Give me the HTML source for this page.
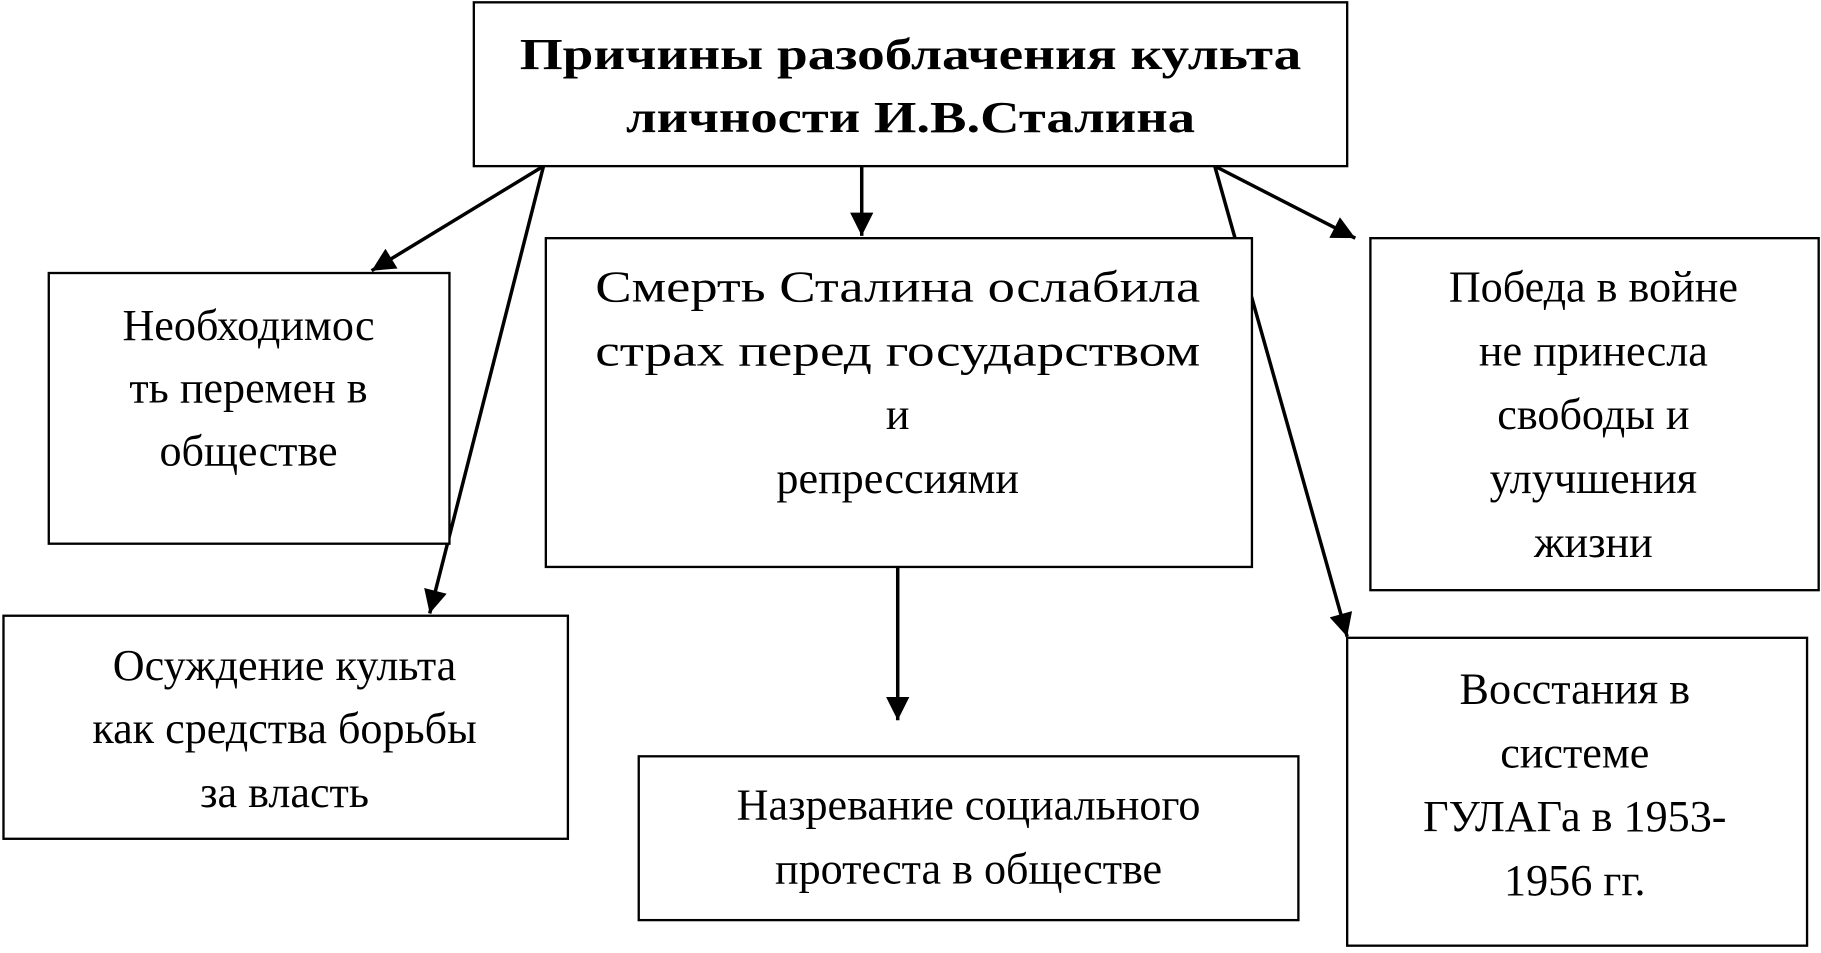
<!DOCTYPE html>
<html><head><meta charset="utf-8"><style>html,body{margin:0;padding:0;background:#fff;overflow:hidden}</style></head>
<body>
<svg width="1821" height="948" viewBox="0 0 1568 816" preserveAspectRatio="none" xmlns="http://www.w3.org/2000/svg" font-family="Liberation Serif, serif" fill="#000">
<defs><marker id="a" markerWidth="10" markerHeight="10" refX="9" refY="5" orient="auto" markerUnits="userSpaceOnUse" viewBox="0 0 10 10"><path d="M0,0 L10,5 L0,10 z"/></marker>
<marker id="b" viewBox="0 0 10 10" refX="10" refY="5" markerWidth="22" markerHeight="20" orient="auto" markerUnits="userSpaceOnUse"><path d="M0,0 L10,5 L0,10 z"/></marker></defs>
<g stroke="#000" stroke-width="3" fill="none">
<line x1="468" y1="143" x2="320" y2="233" marker-end="url(#b)"/>
<line x1="468" y1="143" x2="370" y2="528" marker-end="url(#b)"/>
<line x1="742" y1="143" x2="742" y2="203" marker-end="url(#b)"/>
<line x1="1046" y1="143" x2="1167" y2="205" marker-end="url(#b)"/>
<line x1="1046" y1="143" x2="1160" y2="548" marker-end="url(#b)"/>
<line x1="773" y1="488" x2="773" y2="620" marker-end="url(#b)"/>
</g>
<g stroke="#000" stroke-width="2" fill="#fff">
<rect x="408" y="2" width="752" height="141"/>
<rect x="42" y="235" width="345" height="233"/>
<rect x="470" y="205" width="608" height="283"/>
<rect x="1180" y="205" width="386" height="303"/>
<rect x="3" y="530" width="486" height="192"/>
<rect x="550" y="651" width="568" height="141"/>
<rect x="1160" y="549" width="396" height="265"/>
</g>
<g text-anchor="middle" font-size="38" dominant-baseline="central">
<g font-weight="bold"><text x="784" y="47" textLength="673" lengthAdjust="spacingAndGlyphs">Причины разоблачения культа</text><text x="784" y="101" textLength="490" lengthAdjust="spacingAndGlyphs">личности И.В.Сталина</text></g>
<text x="214" y="280">Необходимос</text><text x="214" y="334">ть перемен в</text><text x="214" y="388">обществе</text>
<text x="773" y="247" textLength="521" lengthAdjust="spacingAndGlyphs">Смерть Сталина ослабила</text><text x="773" y="302" textLength="521" lengthAdjust="spacingAndGlyphs">страх перед государством</text><text x="773" y="357">и</text><text x="773" y="412">репрессиями</text>
<text x="1372" y="247">Победа в войне</text><text x="1372" y="302">не принесла</text><text x="1372" y="357">свободы и</text><text x="1372" y="412">улучшения</text><text x="1372" y="467">жизни</text>
<text x="245" y="573">Осуждение культа</text><text x="245" y="627">как средства борьбы</text><text x="245" y="682">за власть</text>
<text x="834" y="693">Назревание социального</text><text x="834" y="748">протеста в обществе</text>
<text x="1356" y="593">Восстания в</text><text x="1356" y="648">системе</text><text x="1356" y="703">ГУЛАГа в 1953-</text><text x="1356" y="758">1956 гг.</text>
</g>
</svg>
</body></html>
